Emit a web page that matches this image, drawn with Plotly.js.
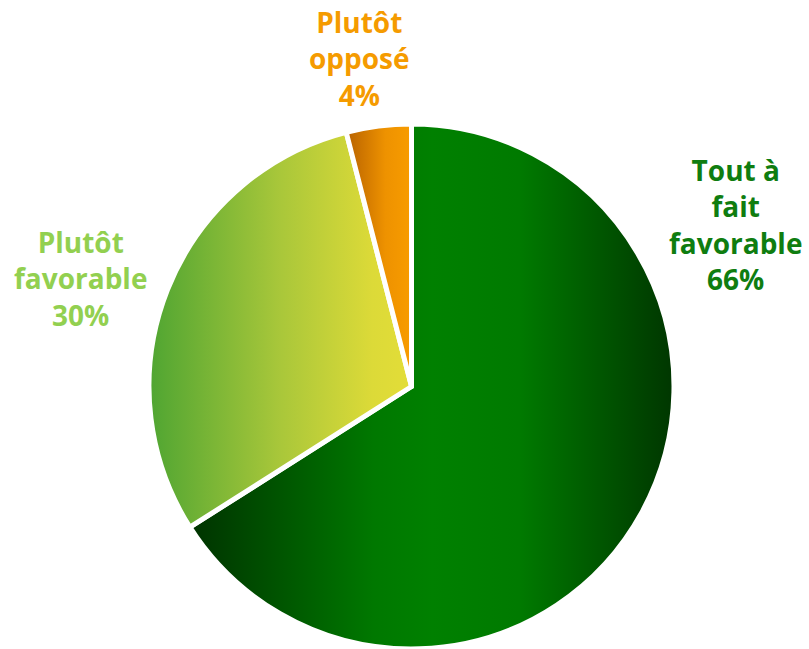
<!DOCTYPE html>
<html>
<head>
<meta charset="utf-8">
<script src="https://cdn.plot.ly/plotly-3.0.1.min.js"></script>
<style>html,body{margin:0;padding:0;background:#fff;}#chart{width:809px;height:649px;}</style>
</head>
<body>
<div id="chart"></div>
<script>
const categories = ["Tout à fait favorable", "Plutôt favorable", "Plutôt opposé"];
const labelLines = ["Tout à<br>fait<br>favorable", "Plutôt<br>favorable", "Plutôt<br>opposé"];
const values = [66, 30, 4];
const labelColors = ["#0f7d10", "#92d050", "#f59b00"];
const baseColors = ["#007a00", "#b0c83c", "#e08800"];

// gradient stops (left -> right) for each slice
const gradients = [
  [[0, "#003300"], [0.38, "#007800"], [0.5, "#008000"], [0.68, "#007a00"], [1, "#003600"]],
  [[0, "#4fa532"], [0.5, "#a9c73a"], [0.85, "#dcda38"], [1, "#e3dd38"]],
  [[0, "#b86200"], [0.6, "#ee9200"], [1, "#f89c00"]]
];

// label anchor positions (paper coords, relative to the pie domain)
const labelPos = [[1.114, 0.808], [-0.129, 0.705], [0.402, 1.124]];

const trace = {
  type: "pie",
  labels: categories,
  values: values,
  sort: false,
  direction: "clockwise",
  rotation: 0,
  textinfo: "none",
  hoverinfo: "label+percent",
  marker: { colors: baseColors, line: { color: "#ffffff", width: 5 } },
  showlegend: false
};

const annotations = categories.map((c, i) => ({
  xref: "paper", yref: "paper",
  x: labelPos[i][0], y: labelPos[i][1],
  xanchor: "center", yanchor: "middle",
  showarrow: false,
  align: "center",
  text: labelLines[i] + "<br>" + values[i] + "%",
  font: { family: "'Open Sans', 'DejaVu Sans', sans-serif", size: 28, color: labelColors[i], weight: "bold" }
}));

const layout = {
  width: 809, height: 649,
  margin: { l: 148, r: 134, t: 124, b: 0 },
  paper_bgcolor: "#ffffff",
  annotations: annotations,
  showlegend: false
};

Plotly.newPlot("chart", [trace], layout, { displayModeBar: false, staticPlot: true }).then(function (gd) {
  const svg = gd.querySelector("svg.main-svg");
  const ns = "http://www.w3.org/2000/svg";
  let defs = svg.querySelector("defs");
  if (!defs) { defs = document.createElementNS(ns, "defs"); svg.insertBefore(defs, svg.firstChild); }
  gradients.forEach((stops, i) => {
    const lg = document.createElementNS(ns, "linearGradient");
    lg.setAttribute("id", "sliceGrad" + i);
    lg.setAttribute("x1", "0"); lg.setAttribute("y1", "0");
    lg.setAttribute("x2", "1"); lg.setAttribute("y2", "0");
    stops.forEach(s => {
      const st = document.createElementNS(ns, "stop");
      st.setAttribute("offset", s[0]);
      st.setAttribute("stop-color", s[1]);
      lg.appendChild(st);
    });
    defs.appendChild(lg);
  });
  const paths = gd.querySelectorAll("g.slice path.surface");
  paths.forEach((p, i) => { p.style.fill = "url(#sliceGrad" + i + ")"; });
});
</script>
</body>
</html>
